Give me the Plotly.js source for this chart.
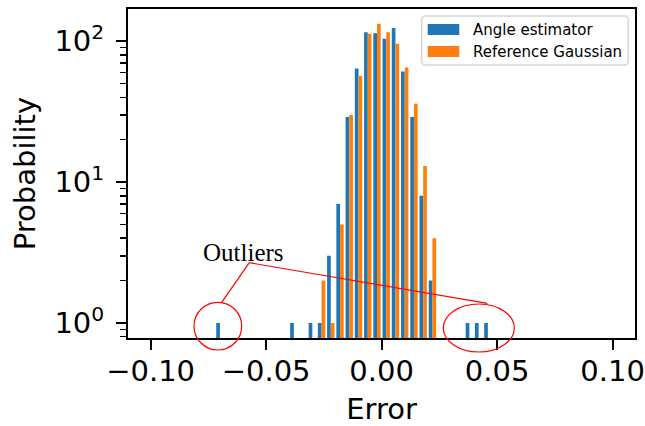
<!DOCTYPE html>
<html>
<head>
<meta charset="utf-8">
<script src="https://cdn.plot.ly/plotly-3.0.1.min.js"></script>
<style>
  html, body { margin: 0; padding: 0; background: #fff; }
  #chart { width: 645px; height: 426px; }
</style>
</head>
<body>
<div id="chart"></div>
<script>
// ---- data ----
const seriesNames = ["Angle estimator", "Reference Gaussian"];
// bin centres (bins of width 0.004 from -0.1 to 0.1)
const angleBins = [-0.070, -0.038, -0.030, -0.026, -0.022, -0.018, -0.014, -0.010, -0.006, -0.002,
                   0.002, 0.006, 0.010, 0.014, 0.018, 0.022, 0.038, 0.042, 0.046];
const angleValues = [1, 1, 1, 1, 3, 7, 29, 64, 116, 114,
                     104, 124, 61, 29, 8, 2, 1, 1, 1];
const gaussBins = [-0.026, -0.022, -0.018, -0.014, -0.010, -0.006, -0.002,
                   0.002, 0.006, 0.010, 0.014, 0.018, 0.022];
const gaussValues = [2, 1, 5, 30, 57, 113, 133, 116, 96, 65, 36, 13, 4];
const xTickVals = [-0.10, -0.05, 0.00, 0.05, 0.10];
const yTickVals = [1, 10, 100];
const yTickText = ["10<sup>0</sup>", "10<sup>1</sup>", "10<sup>2</sup>"];
const yMinorVals = [0.8, 0.9, 2, 3, 4, 5, 6, 7, 8, 9, 20, 30, 40, 50, 60, 70, 80, 90];
const annotationText = "Outliers";

// ---- layout helpers (pixel -> paper) ----
const M = {l: 128, r: 10, t: 9, b: 88};
const PW = 645 - M.l - M.r, PH = 426 - M.t - M.b;
const px = x => (x - M.l) / PW;
const py = y => (426 - M.b - y) / PH;

const binWidth = 0.004;
const barW = 0.4 * binWidth;
const blue = "#1f77b4", orange = "#ff7f0e";

const traces = [
  {type: "bar", x: angleBins, y: angleValues, name: seriesNames[0],
   width: barW, offset: -barW, marker: {color: blue, line: {width: 0}}, showlegend: false},
  {type: "bar", x: gaussBins, y: gaussValues, name: seriesNames[1],
   width: barW, offset: 0, marker: {color: orange, line: {width: 0}}, showlegend: false}
];

function roundRect(x0, y0, x1, y1, r) {
  const rx = r / PW, ry = r / PH;
  const a = px(x0), b = px(x1), top = py(y0), bot = py(y1);
  return `M${a + rx},${top} L${b - rx},${top} Q${b},${top} ${b},${top - ry} ` +
         `L${b},${bot + ry} Q${b},${bot} ${b - rx},${bot} L${a + rx},${bot} ` +
         `Q${a},${bot} ${a},${bot + ry} L${a},${top - ry} Q${a},${top} ${a + rx},${top} Z`;
}

const red = {color: "#ff0000", width: 1.2};
const shapes = [
  // annotation circles and connector lines
  {type: "circle", xref: "paper", yref: "paper", x0: px(194), x1: px(241.7), y0: py(350), y1: py(302.3), line: red, layer: "above"},
  {type: "circle", xref: "paper", yref: "paper", x0: px(443.3), x1: px(514.3), y0: py(352), y1: py(304), line: red, layer: "above"},
  {type: "line", xref: "paper", yref: "paper", x0: px(249.3), y0: py(262.7), x1: px(221.7), y1: py(302.3), line: red, layer: "above"},
  {type: "line", xref: "paper", yref: "paper", x0: px(249.3), y0: py(262.7), x1: px(487.3), y1: py(303.3), line: red, layer: "above"},
  // legend frame
  {type: "path", xref: "paper", yref: "paper", path: roundRect(421.7, 16, 628.3, 65, 4),
   fillcolor: "rgba(255,255,255,0.8)", line: {color: "#d6d6d6", width: 1.5}, layer: "above"},
  // legend patches
  {type: "rect", xref: "paper", yref: "paper", x0: px(427.7), x1: px(459.3), y0: py(35), y1: py(24),
   fillcolor: blue, line: {width: 0}, layer: "above"},
  {type: "rect", xref: "paper", yref: "paper", x0: px(427.7), x1: px(459.3), y0: py(57), y1: py(46),
   fillcolor: orange, line: {width: 0}, layer: "above"}
];

const annotations = [
  {xref: "paper", yref: "paper", x: px(471), y: py(29.5), xanchor: "left", yanchor: "middle",
   text: seriesNames[0], showarrow: false, font: {family: "DejaVu Sans", size: 15, color: "#000"}},
  {xref: "paper", yref: "paper", x: px(471), y: py(51.5), xanchor: "left", yanchor: "middle",
   text: seriesNames[1], showarrow: false, font: {family: "DejaVu Sans", size: 15, color: "#000"}},
  {xref: "paper", yref: "paper", x: px(243), y: py(252), xanchor: "center", yanchor: "middle",
   text: annotationText, showarrow: false, font: {family: "Liberation Serif", size: 25, color: "#000"}}
];

const layout = {
  width: 645, height: 426,
  margin: M,
  paper_bgcolor: "#fff", plot_bgcolor: "#fff",
  font: {family: "DejaVu Sans", color: "#000", size: 29},
  barmode: "overlay",
  showlegend: false,
  xaxis: {
    range: [-0.1098, 0.1097],
    tickmode: "array", tickvals: xTickVals, tickformat: ".2f",
    ticks: "outside", ticklen: 10, tickwidth: 2, tickcolor: "#000",
    showline: true, linecolor: "#000", linewidth: 2, mirror: true,
    showgrid: false, zeroline: false,
    tickfont: {family: "DejaVu Sans", size: 29, color: "#000"},
    ticklabelstandoff: -4,
    title: {text: "Error", font: {family: "DejaVu Sans", size: 29, color: "#000"}, standoff: 16}
  },
  yaxis: {
    type: "log",
    range: [-0.1064, 2.229],
    tickmode: "array", tickvals: yTickVals, ticktext: yTickText,
    ticks: "outside", ticklen: 10, tickwidth: 2, tickcolor: "#000",
    minor: {tickmode: "array", tickvals: yMinorVals, ticks: "outside", ticklen: 6, tickwidth: 1.5, tickcolor: "#000", showgrid: false},
    showline: true, linecolor: "#000", linewidth: 2, mirror: true,
    showgrid: false, zeroline: false,
    tickfont: {family: "DejaVu Sans", size: 29, color: "#000"},
    ticklabelstandoff: 6,
    title: {text: "Probability", font: {family: "DejaVu Sans", size: 29, color: "#000"}, standoff: 10}
  },
  shapes: shapes,
  annotations: annotations
};

Plotly.newPlot("chart", traces, layout, {staticPlot: true, displayModeBar: false});
</script>
</body>
</html>
